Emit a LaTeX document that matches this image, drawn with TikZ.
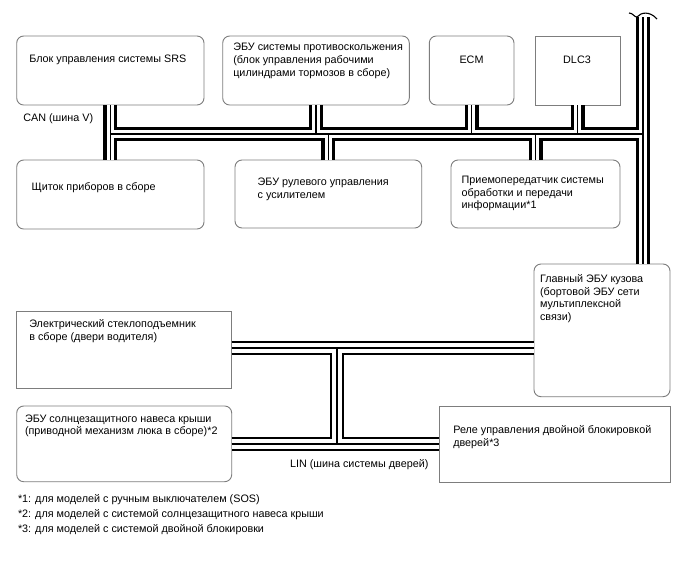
\documentclass[tikz,border=0pt]{standalone}
\usepackage{fontspec}
\setmainfont{Liberation Sans}
\definecolor{boxgray}{RGB}{125,125,125}
\newcommand\fs{\fontsize{10.8}{13}\selectfont}
\begin{document}
\begin{tikzpicture}[x=1pt,y=-1pt,
  box/.style={draw=boxgray, line width=0.9pt, fill=white, rounded corners=7pt, anchor=north west, outer sep=0pt, inner sep=0pt},
  sbox/.style={box, sharp corners},
  lbl/.style={anchor=base west, inner sep=0pt, outer sep=0pt, font=\fs},
  clbl/.style={lbl, anchor=base},
  canbus/.style={line width=14pt, black, postaction={draw=white, line width=7.6pt}, postaction={draw=black, line width=1.5pt}},
  linbus/.style={line width=13.2pt, black, postaction={draw=white, line width=10.8pt}, postaction={draw=black, line width=2.8pt}}]
\fill[white] (0,0) rectangle (688,560);
\useasboundingbox (0,0) rectangle (688,560);

% boxes
\node[box,  minimum width=187.3pt, minimum height=69pt] (srs) at (16.7,36) {};
\node[box,  minimum width=186.6pt, minimum height=69pt] (abs) at (222.7,36) {};
\node[box,  minimum width=84.7pt,  minimum height=69pt] (ecm) at (429.3,36) {};
\node[sbox, minimum width=85pt,    minimum height=69pt] (dlc) at (535,36) {};
\node[box,  minimum width=187.3pt, minimum height=69pt] (inst) at (16.7,160) {};
\node[box,  minimum width=186.7pt, minimum height=68pt] (eps) at (235,160) {};
\node[box,  minimum width=169pt,   minimum height=68pt] (trx) at (451,160) {};
\node[box,  minimum width=136pt,   minimum height=132.7pt] (main) at (534,264) {};
\node[sbox, minimum width=215pt,   minimum height=76.6pt] (win) at (16.7,311.7) {};
\node[box,  minimum width=215pt,   minimum height=75.7pt] (sun) at (16.7,406) {};
\node[sbox, minimum width=231pt,   minimum height=76pt] (rel) at (439,406.7) {};

% bus junctions
\coordinate (canR) at (643,134);
\coordinate (canTop) at (643,17);
\coordinate (linT) at (337,348);
\coordinate (linB) at (337,444);

% CAN bus
\draw[canbus] (srs.south) -- (inst.north)
  (srs.south |- canR) -- (canR)
  (canTop) -- (main.north -| canR)
  (abs.south) -- (abs.south |- canR)
  (ecm.south) -- (ecm.south |- canR)
  (dlc.south) -- (dlc.south |- canR)
  (eps.north) -- (eps.north |- canR)
  (trx.north) -- (trx.north |- canR);
\draw[line width=1.1pt] (629,13) .. controls (633,13) and (634,17) .. (637,17)
  .. controls (641,12) and (650,11) .. (657,19);

% LIN bus
\draw[linbus] (win.east |- linT) -- (main.west |- linT)
  (linT) -- (linB)
  (sun.east |- linB) -- (rel.west |- linB);

% texts
\node[lbl] (srs-t) at (29.3,62) {Блок управления системы SRS};
\node[lbl] (abs-t1) at (233.3,50) {ЭБУ системы противоскольжения};
\node[lbl] (abs-t2) at (233.3,63) {(блок управления рабочими};
\node[lbl] (abs-t3) at (233.3,76) {цилиндрами тормозов в сборе)};
\node[clbl] (ecm-t) at (471.5,63.5) {ECM};
\node[clbl] (dlc-t) at (577,63.5) {DLC3};
\node[lbl] (inst-t) at (31.7,190) {Щиток приборов в сборе};
\node[lbl] (eps-t1) at (257.7,185.5) {ЭБУ рулевого управления};
\node[lbl] (eps-t2) at (257.7,198) {с усилителем};
\node[lbl] (trx-t1) at (461.7,183) {Приемопередатчик системы};
\node[lbl] (trx-t2) at (461.7,196) {обработки и передачи};
\node[lbl] (trx-t3) at (461.7,208.5) {информации*1};
\node[lbl] (main-t1) at (540,282) {Главный ЭБУ кузова};
\node[lbl] (main-t2) at (540,295) {(бортовой ЭБУ сети};
\node[lbl] (main-t3) at (540,307.5) {мультиплексной};
\node[lbl] (main-t4) at (540,320) {связи)};
\node[lbl] (win-t1) at (29.3,327.5) {Электрический стеклоподъемник};
\node[lbl] (win-t2) at (29.3,340) {в сборе (двери водителя)};
\node[lbl] (sun-t1) at (25,422) {ЭБУ солнцезащитного навеса крыши};
\node[lbl] (sun-t2) at (25,434) {(приводной механизм люка в сборе)*2};
\node[lbl] (rel-t1) at (453.3,433.5) {Реле управления двойной блокировкой};
\node[lbl] (rel-t2) at (453.3,446) {дверей*3};
\node[lbl] (can-t) at (23.3,121) {CAN (шина V)};
\node[lbl] (lin-t) at (290,467) {LIN (шина системы дверей)};
\node[lbl] (fn1) at (18,502) {*1: для моделей с ручным выключателем (SOS)};
\node[lbl] (fn2) at (18,517) {*2: для моделей с системой солнцезащитного навеса крыши};
\node[lbl] (fn3) at (18,532) {*3: для моделей с системой двойной блокировки};
\end{tikzpicture}
\end{document}
